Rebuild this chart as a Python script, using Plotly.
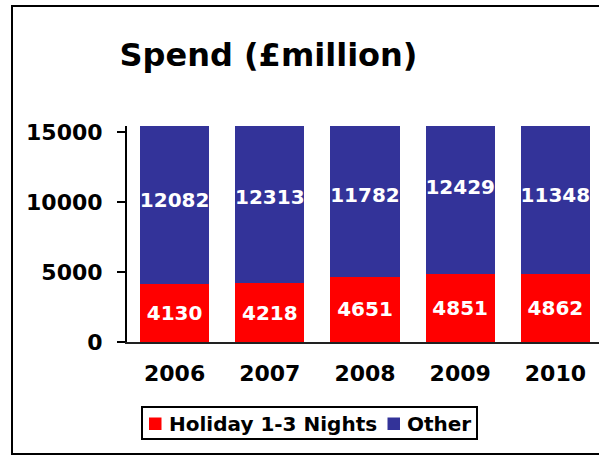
import plotly.graph_objects as go

years = ["2006", "2007", "2008", "2009", "2010"]
holiday_short = [4130, 4218, 4651, 4851, 4862]
other = [12082, 12313, 11782, 12429, 11348]
y_ticks = [0, 5000, 10000, 15000]
series_names = ["Holiday 1-3 Nights", "Other"]

FONT = "DejaVu Sans"
RED = "#FF0000"
BLUE = "#333399"

W, H = 599, 456
ML, MR, MT, MB = 127, 0, 126, 114
PW, PH = W - ML - MR, H - MT - MB


def px_to_paper_x(px):
    return (px - ML) / PW


def px_to_paper_y(py):
    return (H - MB - py) / PH


label_font = dict(family=FONT, size=20, color="white", weight="bold")

fig = go.Figure()
for name, vals, col in [(series_names[0], holiday_short, RED),
                        (series_names[1], other, BLUE)]:
    fig.add_trace(go.Bar(
        x=years, y=vals, name=name,
        marker=dict(color=col, line=dict(width=0)),
        text=[str(v) for v in vals], textposition="inside",
        insidetextanchor="middle", textangle=0, constraintext="none",
        textfont=label_font,
    ))

# chart frame (left, top, bottom edges; right edge runs past the page)
fig.add_shape(type="rect", xref="paper", yref="paper",
              x0=px_to_paper_x(12), x1=px_to_paper_x(620),
              y0=px_to_paper_y(454), y1=px_to_paper_y(6),
              line=dict(color="black", width=2), fillcolor="rgba(0,0,0,0)")

# legend box with swatches and labels
fig.add_shape(type="rect", xref="paper", yref="paper",
              x0=px_to_paper_x(142), x1=px_to_paper_x(477),
              y0=px_to_paper_y(439), y1=px_to_paper_y(407),
              line=dict(color="black", width=2), fillcolor="white")
legend_items = [(series_names[0], RED, 149, 167), (series_names[1], BLUE, 387.5, 405)]
for name, col, sx, tx in legend_items:
    fig.add_shape(type="rect", xref="paper", yref="paper",
                  x0=px_to_paper_x(sx), x1=px_to_paper_x(sx + 12.5),
                  y0=px_to_paper_y(430), y1=px_to_paper_y(417.5),
                  line=dict(width=0), fillcolor=col)
    fig.add_annotation(xref="paper", yref="paper",
                       x=px_to_paper_x(tx), y=px_to_paper_y(423.5),
                       xanchor="left", yanchor="middle", showarrow=False,
                       text=name,
                       font=dict(family=FONT, size=20, color="black", weight="bold"))

fig.update_layout(
    width=W, height=H,
    margin=dict(l=ML, r=MR, t=MT, b=MB, pad=0),
    paper_bgcolor="white", plot_bgcolor="white",
    barmode="stack", bargap=0.275, showlegend=False,
    title=dict(text="Spend (£million)", xref="container", yref="container",
               x=268.5 / W, xanchor="center", y=1 - 55 / H, yanchor="middle",
               font=dict(family=FONT, size=32, color="black", weight="bold")),
    xaxis=dict(
        range=[-0.5, 4.458], showgrid=False, zeroline=False,
        showline=True, linecolor="#222222", linewidth=2,
        ticks="", ticklabelstandoff=11,
        tickfont=dict(family=FONT, size=22, color="black", weight="bold"),
    ),
    yaxis=dict(
        range=[0, 15450], tickvals=y_ticks, ticktext=[str(v) for v in y_ticks],
        showgrid=False, zeroline=False,
        showline=True, linecolor="black", linewidth=2,
        ticks="outside", ticklen=8, tickwidth=2, tickcolor="black",
        ticklabelstandoff=10,
        tickfont=dict(family=FONT, size=22, color="black", weight="bold"),
    ),
)

fig.write_html("out.html")
